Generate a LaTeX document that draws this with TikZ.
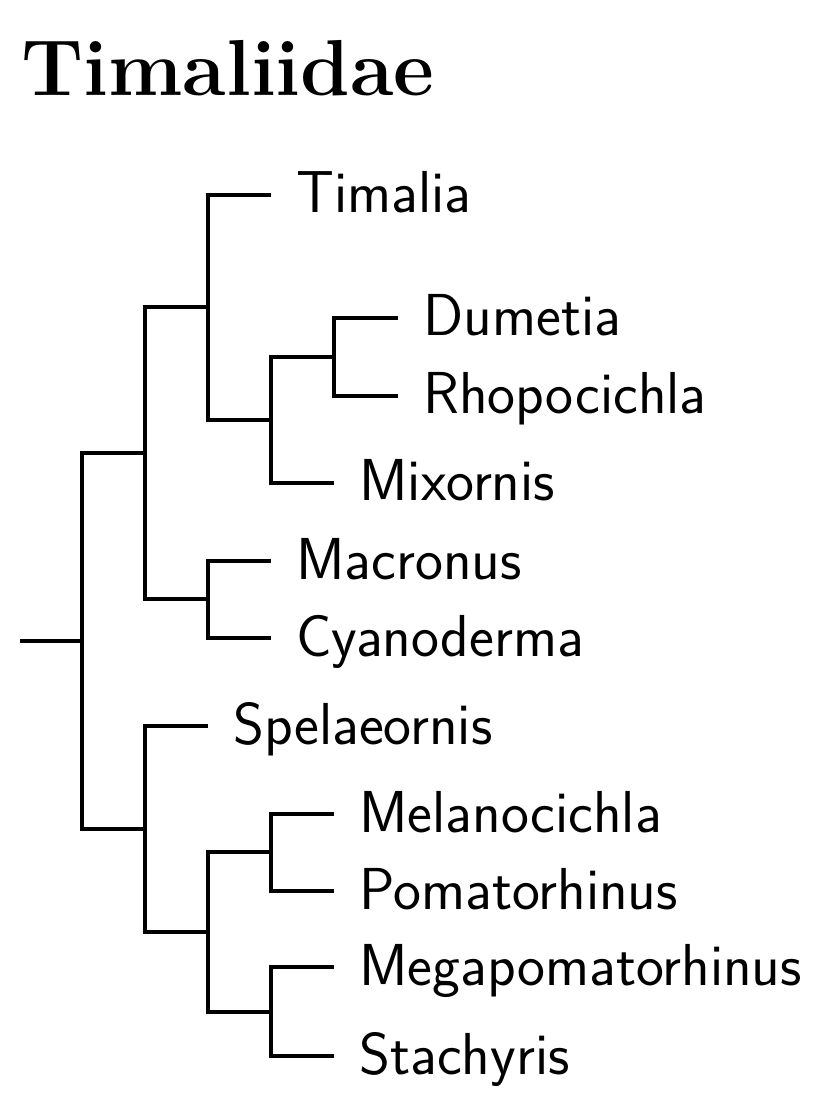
\documentclass[tikz,border=0pt]{standalone}
\usepackage{tikz}
\usetikzlibrary{positioning}

\begin{document}
\begin{tikzpicture}[x=0.5pt, y=-0.5pt,
    taxon/.style={anchor=west, inner xsep=12.5pt, inner ysep=0pt, text height=20pt, text depth=2pt, font=\fontsize{29.6}{35}\selectfont\sffamily},
    heading/.style={anchor=base west, inner sep=0pt, font=\fontsize{39.7}{47}\selectfont\bfseries},
    branch/.style={line width=2pt, black}]

    \useasboundingbox (0,0) rectangle (821,1111);

    % Title
    \node [heading] (title) at (21,96) {Timaliidae};

    % Nodes
    \coordinate (root) at (20,641);
    \coordinate (n1) at (82,641);
    \coordinate (n2) at (145,453);
    \coordinate (n3) at (208,307);
    \coordinate (n4) at (271,420);
    \coordinate (n5) at (334,357);
    \coordinate (n6) at (208,599);
    \coordinate (n7) at (145,829);
    \coordinate (n8) at (208,932);
    \coordinate (n9) at (271,852);
    \coordinate (n10) at (271,1012);

    \node [taxon] (timalia) at (271,195) {Timalia};
    \node [taxon] (dumetia) at (398,318) {Dumetia};
    \node [taxon] (rhopocichla) at (398,396) {Rhopocichla};
    \node [taxon] (mixornis) at (334,483) {Mixornis};
    \node [taxon] (macronus) at (271,561) {Macronus};
    \node [taxon] (cyanoderma) at (271,638) {Cyanoderma};
    \node [taxon] (spelaeornis) at (208,726) {Spelaeornis};
    \node [taxon] (melanocichla) at (334,814) {Melanocichla};
    \node [taxon] (pomatorhinus) at (334,891) {Pomatorhinus};
    \node [taxon] (megapomatorhinus) at (334,967) {Megapomatorhinus};
    \node [taxon] (stachyris) at (334,1056) {Stachyris};

    % Branches
    \draw [branch] (root) -- (n1);
    \draw [branch] (n1) |- (n2);
    \draw [branch] (n1) |- (n7);
    \draw [branch] (n2) |- (n3);
    \draw [branch] (n2) |- (n6);
    \draw [branch] (n3) |- (timalia.west);
    \draw [branch] (n3) |- (n4);
    \draw [branch] (n4) |- (n5);
    \draw [branch] (n4) |- (mixornis.west);
    \draw [branch] (n5) |- (dumetia.west);
    \draw [branch] (n5) |- (rhopocichla.west);
    \draw [branch] (n6) |- (macronus.west);
    \draw [branch] (n6) |- (cyanoderma.west);
    \draw [branch] (n7) |- (spelaeornis.west);
    \draw [branch] (n7) |- (n8);
    \draw [branch] (n8) |- (n9);
    \draw [branch] (n8) |- (n10);
    \draw [branch] (n9) |- (melanocichla.west);
    \draw [branch] (n9) |- (pomatorhinus.west);
    \draw [branch] (n10) |- (megapomatorhinus.west);
    \draw [branch] (n10) |- (stachyris.west);

\end{tikzpicture}
\end{document}
